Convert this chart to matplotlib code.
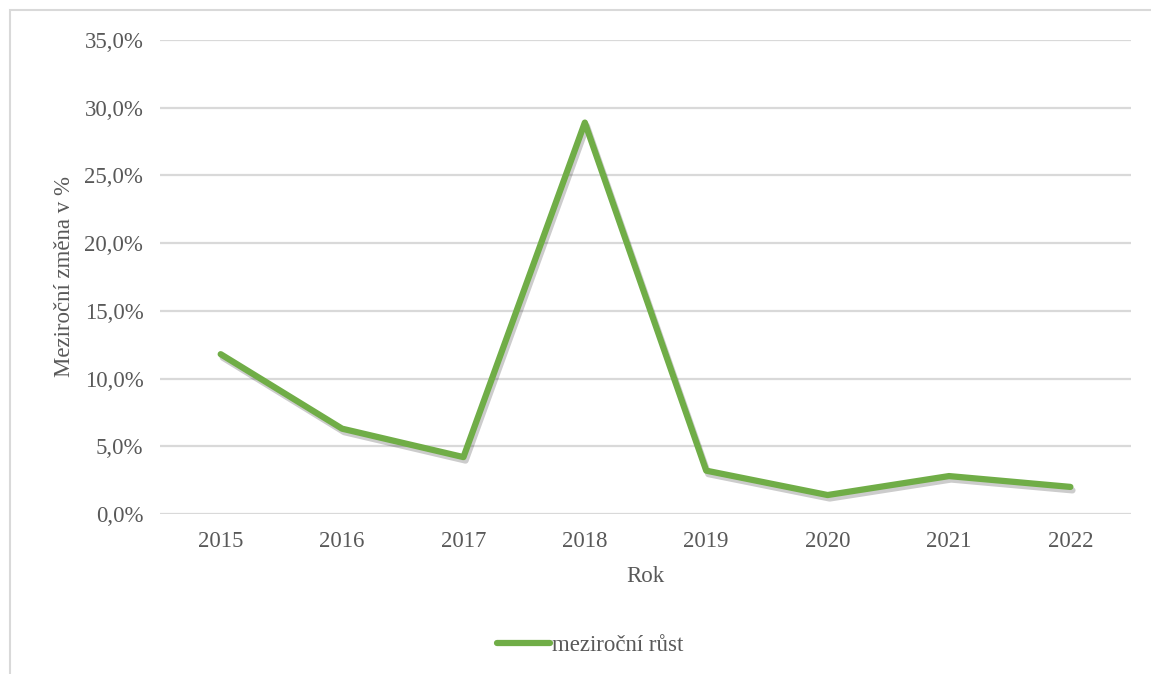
import matplotlib.pyplot as plt
import matplotlib.patheffects as pe
from matplotlib.patches import Rectangle
from matplotlib.lines import Line2D

years = ["2015", "2016", "2017", "2018", "2019", "2020", "2021", "2022"]
growth = [11.8, 6.3, 4.2, 28.9, 3.2, 1.4, 2.8, 2.0]
yticks = [0, 5, 10, 15, 20, 25, 30, 35]

plt.rcParams['font.family'] = ['Liberation Serif', 'DejaVu Serif']
grey_text = "#595959"
green = "#70AD47"

fig = plt.figure(figsize=(11.51, 6.74), dpi=100)
ax = fig.add_axes([0.139, 0.2374, 0.8437, 0.7033])

x = list(range(len(years)))
ax.plot(x, growth, color=green, lw=4.5, solid_capstyle='round', solid_joinstyle='round',
        path_effects=[pe.SimpleLineShadow(offset=(1.5, -2.5), shadow_color='#000000', alpha=0.2),
                      pe.Normal()])

ax.set_xlim(-0.5, len(years) - 0.5)
ax.set_ylim(0, 35)
ax.set_yticks(yticks)
ax.set_yticklabels([f"{v:.1f}%".replace(".", ",") for v in yticks])
ax.set_xticks(x)
ax.set_xticklabels(years)
ax.tick_params(axis='both', length=0, labelsize=16.5, labelcolor=grey_text)
ax.tick_params(axis='y', pad=12)
ax.tick_params(axis='x', pad=12)
ax.grid(axis='y', color='#D9D9D9', lw=1.6)
ax.set_axisbelow(True)
for s in ax.spines.values():
    s.set_visible(False)

ax.set_xlabel("Rok", fontsize=16.5, color=grey_text, labelpad=10)
ax.set_ylabel("Meziroční změna v %", fontsize=16.5, color=grey_text, labelpad=7)

handle = Line2D([], [], color=green, lw=4.5, solid_capstyle='round')
fig.legend([handle], ["meziroční růst"], loc='center', bbox_to_anchor=(0.513, 0.043),
           frameon=False, fontsize=16.5, handlelength=2.3, handletextpad=0.1,
           labelcolor=grey_text)

# chart border (cropped at right/bottom)
fig.patches.append(Rectangle((10 / 1151, -0.05), 1.2, 1 - 10 / 674 + 0.05,
                             transform=fig.transFigure, fill=False,
                             edgecolor='#D9D9D9', lw=1.5))

fig.savefig("out.png", dpi=100)
